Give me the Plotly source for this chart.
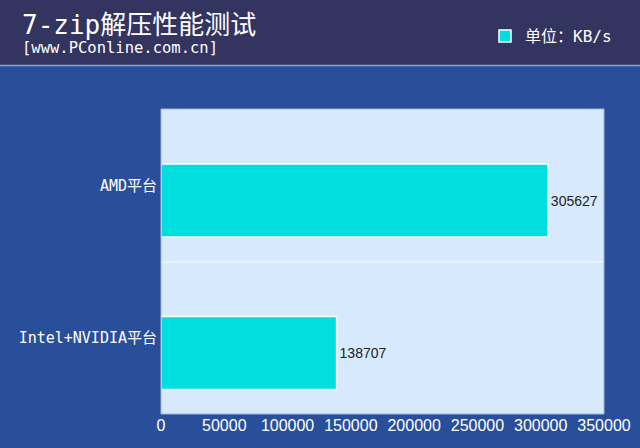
import plotly.graph_objects as go

categories = ["Intel+NVIDIA平台", "AMD平台"]
values = [138707, 305627]
x_ticks = [0, 50000, 100000, 150000, 200000, 250000, 300000, 350000]
title_text = "7-zip解压性能测试"
subtitle_text = "[www.PConline.com.cn]"
unit_text = "单位：KB/s"

W, H = 640, 448
L, R, T, B = 161, 36, 109, 34
pw, ph = W - L - R, H - T - B

MONO_CJK = "DejaVu Sans Mono, Noto Sans CJK SC"

def px_x(px):
    return (px - L) / pw

def px_y(py):
    return (H - B - py) / ph

fig = go.Figure()
fig.add_trace(go.Bar(
    y=categories, x=values, orientation="h",
    name=unit_text,
    marker=dict(color="#00DEDE", line=dict(color="white", width=1.5)),
    width=0.48, offset=-0.34,
    text=[str(v) for v in values], textposition="outside",
    textfont=dict(family="Arial, Liberation Sans", size=14, color="#222222"),
    cliponaxis=False,
))

fig.update_layout(
    width=W, height=H,
    margin=dict(l=L, r=R, t=T, b=B, autoexpand=False),
    paper_bgcolor="#2A4F9A",
    plot_bgcolor="#D6E9FD",
    showlegend=True,
    legend=dict(x=px_x(485), y=px_y(36), xanchor="left", yanchor="middle",
                bgcolor="rgba(0,0,0,0)",
                font=dict(family=MONO_CJK, size=16, color="white"),
                itemwidth=30),
    xaxis=dict(range=[0, 350000], tickvals=x_ticks, ticktext=[str(t) for t in x_ticks],
               showgrid=False, zeroline=False, showline=False, automargin=False,
               tickfont=dict(family="Arial, Liberation Sans", size=16, color="white"),
               ticks="", ticklen=0),
    yaxis=dict(range=[-0.5, 1.5], type="category", tickson="boundaries",
               showgrid=True, gridcolor="#E6F2FF", gridwidth=1.5, automargin=False,
               showline=False, zeroline=False, ticks="", ticklabelstandoff=3,
               tickfont=dict(family=MONO_CJK, size=15, color="white")),
    shapes=[
        dict(type="rect", xref="paper", yref="paper", x0=px_x(0), x1=px_x(W),
             y0=px_y(65), y1=px_y(0), fillcolor="#33345F", line=dict(width=0), layer="below"),
        dict(type="line", xref="paper", yref="paper", x0=px_x(0), x1=px_x(W),
             y0=px_y(65.5), y1=px_y(65.5), line=dict(color="#8FA6D6", width=1.5)),
        dict(type="rect", xref="paper", yref="paper", x0=0, x1=1, y0=0, y1=1,
             line=dict(color="#9DB5E0", width=1), fillcolor="rgba(0,0,0,0)"),
    ],
    annotations=[
        dict(text=title_text, xref="paper", yref="paper", x=px_x(20), y=px_y(25),
             xanchor="left", yanchor="middle", showarrow=False,
             font=dict(family=MONO_CJK, size=26, color="white")),
        dict(text=subtitle_text, xref="paper", yref="paper", x=px_x(20), y=px_y(48),
             xanchor="left", yanchor="middle", showarrow=False,
             font=dict(family="DejaVu Sans Mono", size=15.5, color="white")),
    ],
)

fig.write_html("out.html")
